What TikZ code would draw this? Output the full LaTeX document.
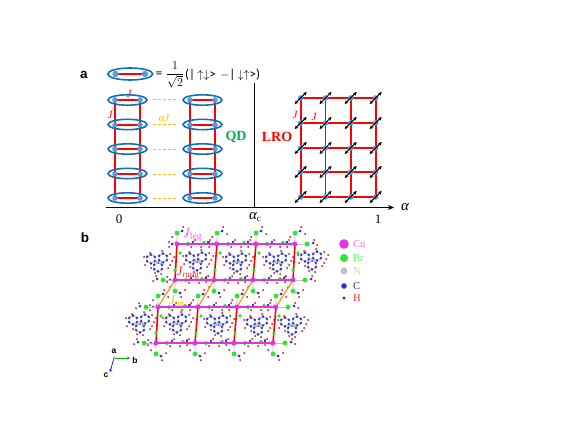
\documentclass[tikz,border=0pt]{standalone}
\usepackage{fontspec}
\setmainfont{Liberation Serif}
\newfontfamily\labelfont{Liberation Sans}
\newfontfamily\eqfont{Carlito}
\usepackage{tikz}
\usetikzlibrary{arrows.meta}
\definecolor{dimerblue}{HTML}{0F70B7}
\definecolor{sitedot}{HTML}{5B9BD5}
\definecolor{couplered}{HTML}{FF0000}
\definecolor{interorange}{HTML}{FFC000}
\definecolor{qdgreen}{HTML}{00B050}
\definecolor{cumag}{HTML}{E033E8}
\definecolor{brgreen}{HTML}{2EE62E}
\definecolor{cblue}{HTML}{2A35C8}
\begin{document}
\begin{tikzpicture}[
    x=1pt, y=-1pt,
    lbl/.style={inner sep=0pt, font=\fontsize{13}{14}\selectfont},
    coup_lbl/.style={inner sep=0pt, font=\itshape\fontsize{11}{12}\selectfont},
    panel_lbl/.style={inner sep=0pt, font=\labelfont\bfseries\fontsize{13.5}{14}\selectfont},
    phase_lbl/.style={inner sep=0pt, font=\bfseries\fontsize{14}{15}\selectfont},
    bond_style/.style={couplered, line width=1.6pt},
    dimer_style/.style={dimerblue, line width=1.6pt},
    inter_style/.style={interorange, dash pattern=on 3pt off 2pt, line width=1pt},
    spin_style/.style={black, line width=1pt, {Stealth[length=3.6pt,width=3.6pt]}-{Stealth[length=3.6pt,width=3.6pt]}},
    leg_style/.style={cumag, line width=1.6pt},
    rung_style/.style={red, line width=1.6pt},
    int_style/.style={orange!90!yellow, line width=1.1pt},
    stick/.style={gray!50, line width=0.7pt},
    cu/.style={fill=cumag},
    br/.style={fill=brgreen},
    nn/.style={fill=gray!50},
    cc/.style={fill=cblue},
    hh/.style={fill=red!85!black},
    ringmol/.pic={
      \foreach \rx/\ry in {-7/-3, 5/-4, 0/5} {
        \draw[stick] (\rx,\ry) circle (4.4);
        \foreach \ra in {30,90,...,330}
          \fill[cc] ({\rx+4.4*cos(\ra)},{\ry+4.4*sin(\ra)}) circle (1.45);
      }
      \fill[nn] (-1,0) circle (1.9);
      \fill[nn] (3,1) circle (1.7);
      \foreach \mx/\my in {-14/-5, -13/3, -8/-9, -7/6, 4/-11, 12/-8, 14/-1, 10/6, 3/12, -3/11, 12/3, 16/-5}
        \fill[hh] (\mx,\my) circle (1);
    },
    tailmol/.pic={
      \draw[stick] (0,0) -- (0,11) -- (5,13);
      \draw[stick] (0,4) -- (-5,-1);
      \fill[br] (0,11) circle (2.4);
      \foreach \mx/\my in {5/13, -5/0}
        \fill[cc] (\mx,\my) circle (1.5);
      \foreach \mx/\my in {6/17, -8/-3, 10/10, -5/7, -8/2}
        \fill[hh] (\mx,\my) circle (1);
    },
    rowmol/.pic={
      \fill[br] (11,0) circle (2);
      \fill[br] (27,-1) circle (2);
      \fill[cc] (16,-2) circle (1.4);
      \fill[cc] (31,-2) circle (1.4);
      \fill[hh] (18,-4) circle (1);
      \fill[hh] (14,3) circle (1);
      \fill[hh] (33,-4) circle (1);
      \fill[hh] (24,3) circle (1);
    },
    rungmol/.pic={
      \fill[br] (3,9) circle (1.9);
      \fill[br] (-2,26) circle (1.9);
    },
    endmol/.pic={
      \draw[stick] (0,0) -- (12,0);
      \fill[br] (12,0) circle (2.4);
      \fill[cc] (18,-1) circle (1.5);
      \fill[hh] (22,1) circle (1);
      \fill[hh] (19,-4) circle (1);
    }
  ]

  \useasboundingbox (0,0) rectangle (571,436);

  % panel a: dimer key
  \node[panel_lbl] (lbl_a) at (84,75) {a};
  \coordinate (key_l) at (115.5,74);
  \coordinate (key_r) at (145,74);
  \draw[bond_style] (key_l) -- (key_r);
  \fill[sitedot] (key_l) circle (3.2);
  \fill[sitedot] (key_r) circle (3.2);
  \draw[dimer_style] (130.2,74) ellipse (22.5 and 6);
  \node[inner sep=0pt, font=\eqfont\fontsize{13}{14}\selectfont] (key_eq) at (159,75) {=};
  \node[inner sep=0pt, font=\fontsize{12}{14}\selectfont] (key_frac) at (175,75) {$\displaystyle\frac{1}{\sqrt{2}}$};
  \node[inner sep=0pt, anchor=west, font=\eqfont\fontsize{13}{14}\selectfont] (key_ket) at (185,75)
    {(|\,$\uparrow\downarrow$>\,\,$-$|\,$\downarrow\uparrow$>)};

  % ladders
  \foreach \lx/\name in {115/L, 190/R} {
    \foreach \ly [count=\i] in {100,125,149,174,198} {
      \coordinate (\name a\i) at (\lx,\ly);
      \coordinate (\name b\i) at (\lx+25,\ly);
    }
    \draw[bond_style] (\name a1) -- (\name a5);
    \draw[bond_style] (\name b1) -- (\name b5);
    \foreach \i in {1,...,5} {
      \draw[bond_style] (\name a\i) -- (\name b\i);
      \fill[sitedot] (\name a\i) circle (2.8);
      \fill[sitedot] (\name b\i) circle (2.8);
      \draw[dimer_style] (\lx+12.5,{100+(\i-1)*24.5}) ellipse (19.5 and 5.2);
    }
  }
  \foreach \i in {1,...,5}
    \draw[inter_style] ([xshift=13pt]Lb\i) -- ([xshift=-13pt]Ra\i);

  \node[coup_lbl, red] (lbl_J1) at (129,94) {J};
  \node[coup_lbl, red] (lbl_J2) at (110,115) {J};
  \node[coup_lbl, interorange] (lbl_aJ) at (164,118) {αJ};
  \node[phase_lbl, qdgreen] (lbl_qd) at (236,137) {QD};
  \node[phase_lbl, red] (lbl_lro) at (277,137) {LRO};

  % axes
  \coordinate (ax_o) at (106,207.5);
  \coordinate (ax_e) at (394,207.5);
  \draw[black, line width=1.4pt, -{Stealth[length=6pt,width=5pt]}] (ax_o) -- (ax_e);
  \draw[black, line width=1.4pt] (254.5,83) -- (254.5,207.5);
  \node[lbl] (lbl_zero) at (119,219) {0};
  \node[lbl] (lbl_ac) at (255,217) {\fontsize{15}{15}\selectfont\itshape α\fontsize{9}{9}\selectfont\upshape\raisebox{-1.5pt}{c}};
  \node[lbl] (lbl_one) at (378,219) {1};
  \node[lbl, font=\itshape\fontsize{15}{15}\selectfont] (lbl_alpha) at (405,207) {α};

  % square lattice with spins
  \foreach \sx [count=\j] in {300.7,325.5,350.7,375.7}
    \foreach \sy [count=\i] in {98,123,148,172,197}
      \coordinate (s\i-\j) at (\sx,\sy);
  \foreach \i in {1,...,5}
    \draw[bond_style] (s\i-1) -- (s\i-4);
  \foreach \j in {1,...,4}
    \draw[bond_style] (s1-\j) -- (s5-\j);
  \foreach \i in {1,...,5}
    \foreach \j in {1,...,4} {
      \fill[sitedot] (s\i-\j) circle (2.8);
      \draw[spin_style] ([shift={(-6pt,-6pt)}]s\i-\j) -- ([shift={(6pt,6pt)}]s\i-\j);
    }
  \node[coup_lbl, red] (lbl_J3) at (295,115) {J};
  \node[coup_lbl, red] (lbl_J4) at (314,117) {J};

  % panel b: crystal structure
  \node[panel_lbl] (lbl_b) at (85,238) {b};

  \coordinate (c1-1) at (177,244); \coordinate (c1-2) at (217,244);
  \coordinate (c1-3) at (256,244); \coordinate (c1-4) at (295,244);
  \coordinate (c2-1) at (175,280); \coordinate (c2-2) at (214,280);
  \coordinate (c2-3) at (253,280); \coordinate (c2-4) at (293,280);
  \coordinate (c3-1) at (158,307); \coordinate (c3-2) at (198,307);
  \coordinate (c3-3) at (237,307); \coordinate (c3-4) at (276,307);
  \coordinate (c4-1) at (156,343); \coordinate (c4-2) at (195,343);
  \coordinate (c4-3) at (234,343); \coordinate (c4-4) at (273,343);

  % molecules
  \foreach \mx/\my in {158/262, 197/261, 237/262, 277/262, 312/260, 140/323, 177/323, 218/324, 258/325, 292/325}
    \pic at (\mx,\my) {ringmol};
  \foreach \i in {1,3}
    \foreach \j in {1,...,4}
      \pic[yscale=-1] at (c\i-\j) {tailmol};
  \foreach \i in {2,4}
    \foreach \j in {1,...,4}
      \pic at (c\i-\j) {tailmol};
  \foreach \i in {1,...,4}
    \foreach \j in {1,2,3}
      \pic at (c\i-\j) {rowmol};
  \pic at (c1-4) {endmol};
  \pic at (c2-4) {endmol};
  \pic[xscale=-1] at (c2-1) {endmol};
  \pic[xscale=-1] at (c3-1) {endmol};
  \pic[xscale=-1] at (c4-1) {endmol};
  \pic at (c3-4) {endmol};
  \pic at (c4-4) {endmol};

  % couplings
  \foreach \i in {1,...,4}
    \draw[leg_style] (c\i-1) -- (c\i-4);
  \foreach \j in {1,...,4} {
    \draw[rung_style] (c1-\j) -- (c2-\j);
    \draw[rung_style] (c3-\j) -- (c4-\j);
    \draw[int_style] (c2-\j) -- (c3-\j);
    \pic at (c1-\j) {rungmol};
    \pic at (c3-\j) {rungmol};
  }
  \foreach \i in {1,...,4}
    \foreach \j in {1,...,4}
      \fill[cu] (c\i-\j) circle (2.4);

  \node[coup_lbl, cumag!70!white, font=\itshape\fontsize{14}{15}\selectfont] (lbl_jleg) at (193,235) {J\textsubscript{\upshape leg}};
  \node[coup_lbl, red!85!white, font=\itshape\fontsize{13}{14}\selectfont] (lbl_jrung) at (188,273) {J\textsubscript{\upshape rung}};
  \node[coup_lbl, interorange, font=\itshape\fontsize{13}{14}\selectfont] (lbl_jint) at (177,301) {J\textsubscript{\upshape int}};

  % legend
  \foreach \ly/\lr/\lsty/\ltxt/\lcol in {
      244/4.8/cu/Cu/cumag!75!white,
      258/4/br/Br/brgreen!75!white,
      271/3.4/nn/N/gray!40,
      286/2.8/cc/C/cblue!80!black,
      298/1.6/hh/H/red!85!white} {
    \fill[\lsty] (344,\ly) circle (\lr);
    \node[anchor=west, inner sep=0pt, text=\lcol, font=\fontsize{10.5}{11}\selectfont] (key_\ltxt) at (353,\ly+0.5) {\ltxt};
  }

  % crystal axes
  \coordinate (tri_o) at (114,358);
  \coordinate (tri_b) at (130,358);
  \coordinate (tri_c) at (110,372);
  \draw[green!70!black, line width=0.7pt, -{Stealth[length=3pt,width=3pt]}] (tri_o) -- (tri_b);
  \draw[blue, line width=0.7pt, -{Stealth[length=3pt,width=3pt]}] (tri_o) -- (tri_c);
  \fill[gray!60] (tri_o) circle (1.6);
  \node[lbl, font=\labelfont\bfseries\fontsize{8.5}{9}\selectfont] (lbl_ta) at (114,351) {a};
  \node[lbl, font=\labelfont\bfseries\fontsize{8.5}{9}\selectfont] (lbl_tb) at (135,360) {b};
  \node[lbl, font=\labelfont\bfseries\fontsize{8.5}{9}\selectfont] (lbl_tc) at (106,375) {c};

\end{tikzpicture}
\end{document}
